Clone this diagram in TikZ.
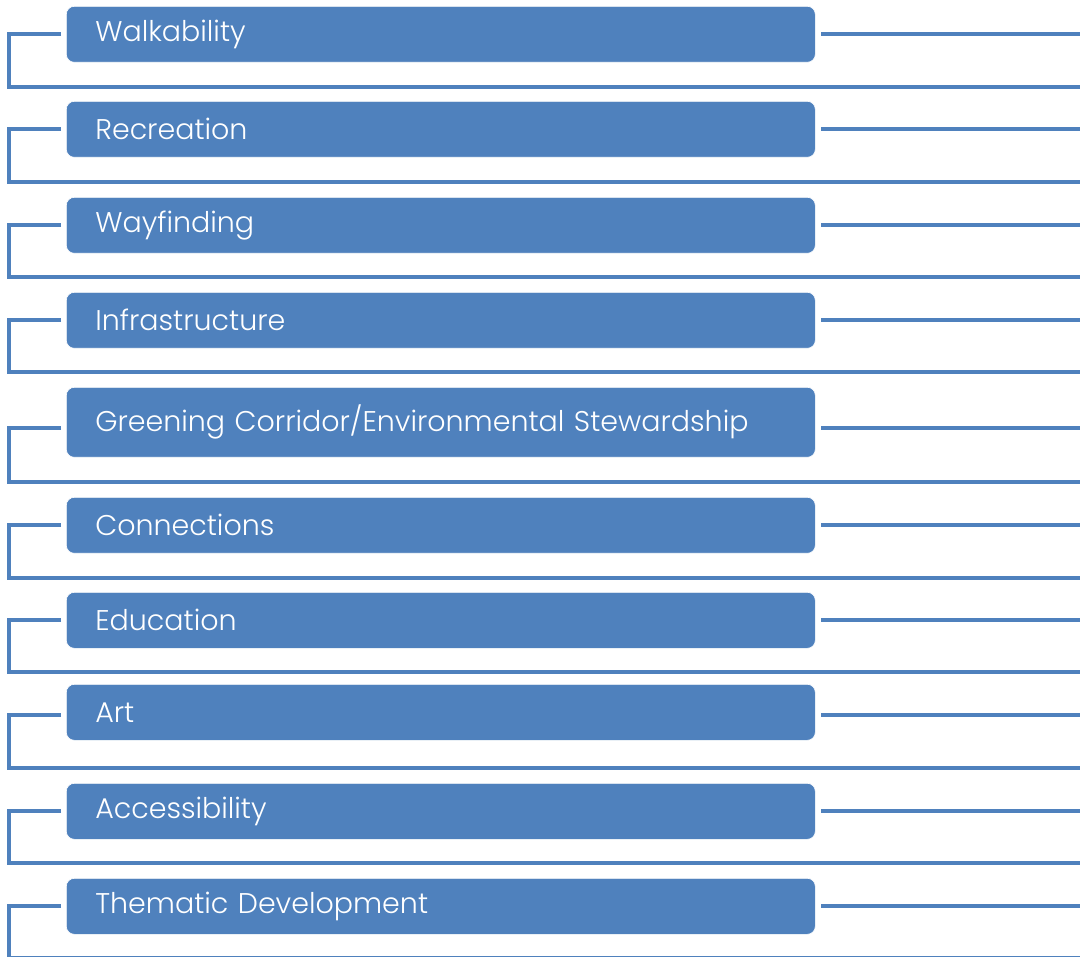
\documentclass[tikz,border=0pt]{standalone}
\usepackage{fontspec}
\setmainfont{Poppins}[UprightFont=* Light]
\definecolor{bluefill}{HTML}{4F81BD}
\begin{document}
\begin{tikzpicture}[x=1pt,y=-1pt,
  box/.style={fill=bluefill, draw=white, line width=0.6pt, rounded corners=8pt,
    minimum width=749pt, minimum height=56pt, text width=691pt, inner xsep=29pt,
    align=left, text=white, font=\fontsize{28.5}{32}\selectfont, anchor=north west},
  conn/.style={draw=bluefill, line width=4.5pt}]
\useasboundingbox (0,0) rectangle (1080,957);
\node[box] (b1) at (66,6) {Walkability};
\node[box] (b2) at (66,101) {Recreation};
\node[box] (b3) at (66,197) {Wayfinding};
\node[box] (b4) at (66,292) {Infrastructure};
\node[box, minimum height=70pt] (b5) at (66,387) {Greening Corridor/Environmental Stewardship};
\node[box] (b6) at (66,497) {Connections};
\node[box] (b7) at (66,592) {Education};
\node[box] (b8) at (66,684) {Art};
\node[box] (b9) at (66,783) {Accessibility};
\node[box] (b10) at (66,878) {Thematic Development};
\foreach \i/\yc/\yb in {1/34/87, 2/129/182, 3/225/277, 4/320/372, 5/428/482, 6/525/578, 7/620/672, 8/715/768, 9/811/863, 10/906/958.5}{
  \coordinate (l\i) at (61,\yc);
  \coordinate (r\i) at (821,\yc);
  \coordinate (e\i) at (1082,\yc);
  \coordinate (c\i) at (9,\yb);
  \coordinate (f\i) at (1082,\yb);
  \draw[conn] (l\i) -| (c\i) -- (f\i);
  \draw[conn] (r\i) -- (e\i);
}
\end{tikzpicture}
\end{document}
